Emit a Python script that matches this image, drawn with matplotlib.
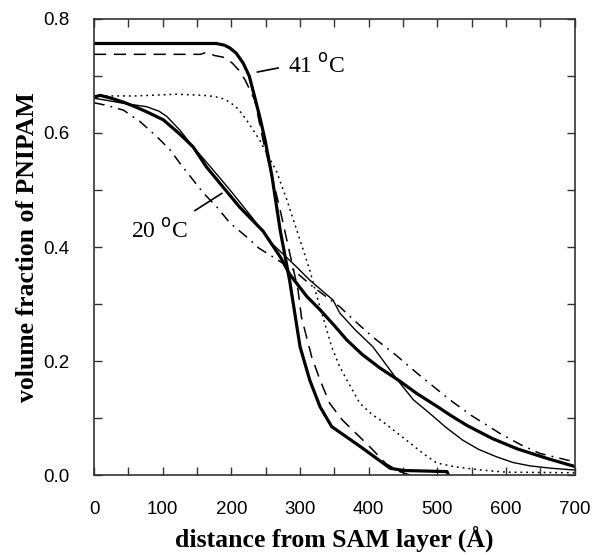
import numpy as np
import matplotlib.pyplot as plt
from matplotlib.ticker import MultipleLocator

# --- data (distance in Å, volume fraction) ---
# 41 C, thick solid
x41_thick = [0, 178, 190, 198, 207, 217, 226, 234, 242, 249, 259, 271, 285, 300, 314, 329, 346, 390, 431, 450, 514, 516]
y41_thick = [0.757, 0.757, 0.754, 0.749, 0.740, 0.723, 0.700, 0.663, 0.625, 0.588, 0.525, 0.43, 0.34, 0.225, 0.167, 0.12, 0.085, 0.048, 0.012, 0.008, 0.006, 0.0]
# 41 C, dashed
x41_dash = [0, 155, 165, 175, 188, 201, 211, 220, 234, 246, 258, 271, 283, 297, 302, 317, 329, 343, 362, 402, 425, 445, 460]
y41_dash = [0.738, 0.738, 0.742, 0.736, 0.733, 0.723, 0.710, 0.693, 0.658, 0.588, 0.53, 0.465, 0.40, 0.325, 0.277, 0.207, 0.167, 0.126, 0.096, 0.049, 0.02, 0.006, 0.0]
# 41 C, dotted
x41_dot = [0, 60, 120, 160, 175, 188, 198, 210, 222, 241, 266, 281, 300, 314, 326, 336, 346, 357, 368, 387, 405, 421, 455, 479, 499, 528, 562, 600, 700]
y41_dot = [0.665, 0.665, 0.668, 0.666, 0.664, 0.660, 0.654, 0.642, 0.623, 0.588, 0.532, 0.482, 0.412, 0.36, 0.307, 0.266, 0.225, 0.192, 0.167, 0.126, 0.106, 0.093, 0.061, 0.038, 0.021, 0.014, 0.009, 0.005, 0.004]
# 20 C, thin solid
x20_thin = [0, 20, 43, 77, 95, 106, 125, 140, 170, 198, 230, 260, 295, 314, 348, 358, 380, 406, 441, 465, 489, 513, 537, 560, 586, 610, 635, 665, 697, 700]
y20_thin = [0.661, 0.657, 0.652, 0.646, 0.638, 0.629, 0.605, 0.582, 0.54, 0.5, 0.452, 0.405, 0.365, 0.342, 0.307, 0.284, 0.255, 0.225, 0.168, 0.132, 0.108, 0.083, 0.061, 0.045, 0.032, 0.022, 0.016, 0.012, 0.009, 0.009]
# 20 C, thick solid
x20_thick = [0, 9, 25, 43, 60, 77, 101, 125, 144, 164, 188, 212, 246, 271, 285, 310, 329, 350, 368, 390, 416, 445, 470, 500, 520, 543, 580, 616, 660, 700]
y20_thick = [0.663, 0.666, 0.661, 0.654, 0.646, 0.637, 0.623, 0.598, 0.576, 0.54, 0.505, 0.47, 0.428, 0.383, 0.352, 0.313, 0.29, 0.262, 0.237, 0.212, 0.188, 0.165, 0.143, 0.12, 0.104, 0.087, 0.064, 0.046, 0.029, 0.015]
# 20 C, dash-dot
x20_dd = [0, 20, 43, 67, 92, 111, 125, 144, 159, 179, 198, 222, 240, 260, 290, 319, 358, 380, 406, 440, 470, 518, 550, 591, 620, 649, 700]
y20_dd = [0.653, 0.648, 0.64, 0.62, 0.593, 0.57, 0.547, 0.518, 0.495, 0.47, 0.442, 0.418, 0.398, 0.383, 0.36, 0.33, 0.295, 0.27, 0.242, 0.21, 0.179, 0.132, 0.104, 0.073, 0.054, 0.038, 0.023]

xticks = [0, 100, 200, 300, 400, 500, 600, 700]
yticks = [0.0, 0.2, 0.4, 0.6, 0.8]

fig = plt.figure(figsize=(5.95, 5.55), dpi=100)
ax = fig.add_axes([0.158, 0.1441, 0.808, 0.8217])

k = 'black'
ax.plot(x41_thick, y41_thick, color=k, lw=2.3, solid_joinstyle='round')
ax.plot(x41_dash, y41_dash, color=k, lw=1.1, ls=(0, (8, 5)))
ax.plot(x41_dot, y41_dot, color=k, lw=1.1, ls=(0, (1.2, 2.6)))
ax.plot(x20_thin, y20_thin, color=k, lw=1.0)
ax.plot(x20_thick, y20_thick, color=k, lw=2.3, solid_joinstyle='round')
ax.plot(x20_dd, y20_dd, color=k, lw=1.1, ls=(0, (7, 4, 1.2, 4)))

# labels with pointer lines
ax.plot([238, 268], [0.707, 0.714], color=k, lw=1.2)
ax.text(283, 0.717, '41 $^{\\rm o}$C', fontsize=17, family='Liberation Serif',
        va='center', ha='left')
ax.plot([147, 186], [0.464, 0.494], color=k, lw=1.2)
ax.text(96, 0.428, '20 $^{\\rm o}$C', fontsize=17, family='Liberation Serif',
        va='center', ha='center')

ax.set_xlim(0, 700)
ax.set_ylim(0, 0.8)
ax.set_xticks(xticks)
ax.set_yticks(yticks)
ax.set_xticklabels([str(t) for t in xticks])
ax.set_yticklabels([f'{t:.1f}' for t in yticks])
ax.xaxis.set_minor_locator(MultipleLocator(50))
ax.yaxis.set_minor_locator(MultipleLocator(0.1))
ax.tick_params(which='both', direction='in', top=True, right=True,
               length=6, width=1.0, color='#333333')
ax.tick_params(axis='x', which='major', pad=19, labelsize=13.5)
ax.tick_params(axis='y', which='major', pad=18, labelsize=13.5)
for lab in ax.get_xticklabels() + ax.get_yticklabels():
    lab.set_family('Liberation Sans')
for s in ax.spines.values():
    s.set_linewidth(1.2)
    s.set_color('#333333')

ax.set_xlabel('distance from SAM layer (Å)', fontsize=18.5, fontweight='bold',
              family='Liberation Serif', labelpad=5)
ax.set_ylabel('volume fraction of PNIPAM', fontsize=18.5, fontweight='bold',
              family='Liberation Serif', labelpad=3)

plt.savefig('out.png', dpi=100)
